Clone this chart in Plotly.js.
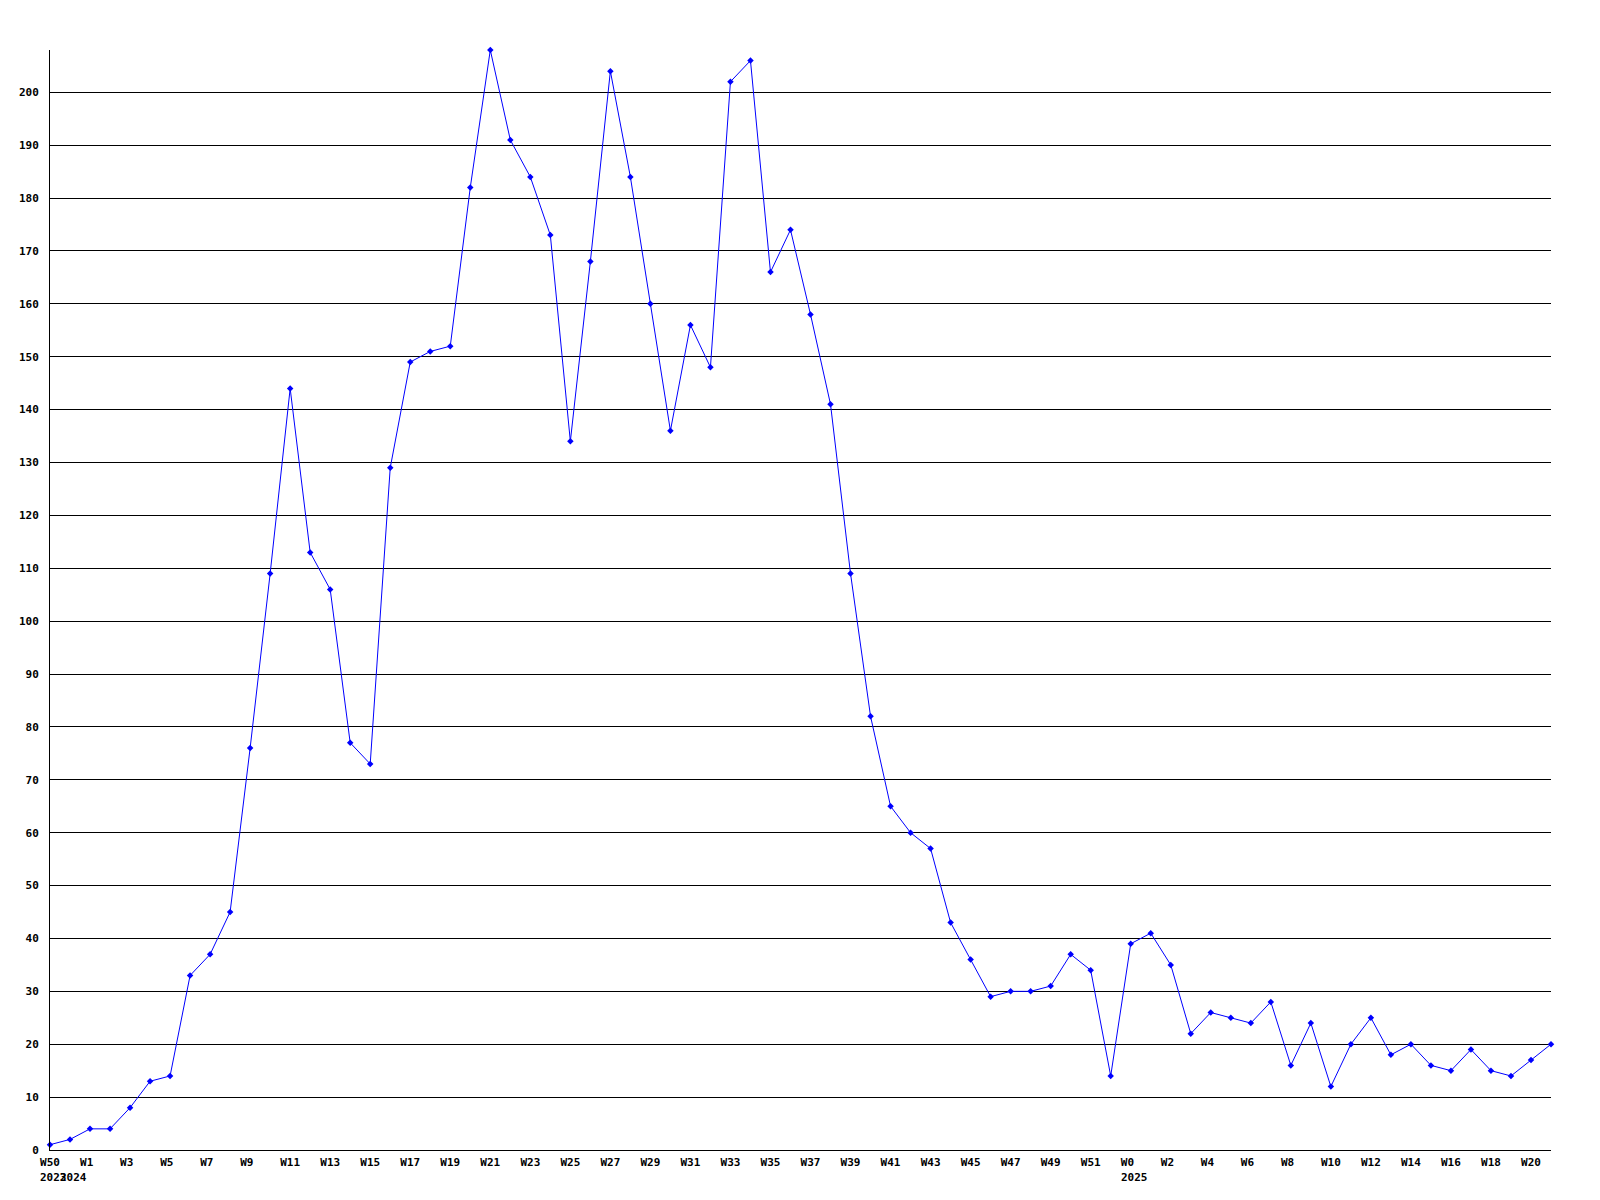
<!DOCTYPE html>
<html>
<head>
<meta charset="utf-8">
<script src="https://cdn.plot.ly/plotly-3.0.1.min.js"></script>
<style>html,body{margin:0;padding:0;background:#fff;}#chart{width:1600px;height:1200px;}</style>
</head>
<body>
<div id="chart"></div>
<script>
// Week labels, in order (index 0 = 2023 W50, index 1 starts 2024, index 54 starts 2025)
var weekLabels = ["W50","W0",
  "W1","W2","W3","W4","W5","W6","W7","W8","W9","W10","W11","W12","W13","W14","W15","W16","W17","W18","W19","W20",
  "W21","W22","W23","W24","W25","W26","W27","W28","W29","W30","W31","W32","W33","W34","W35","W36","W37","W38","W39","W40",
  "W41","W42","W43","W44","W45","W46","W47","W48","W49","W50","W51","W52",
  "W0","W1","W2","W3","W4","W5","W6","W7","W8","W9","W10","W11","W12","W13","W14","W15","W16","W17","W18","W19","W20","W21"];
var values = [1,2,
  4,4,8,13,14,33,37,45,76,109,144,113,106,77,73,129,149,151,152,182,
  208,191,184,173,134,168,204,184,160,136,156,148,202,206,166,174,158,141,109,82,
  65,60,57,43,36,29,30,30,31,37,34,14,
  39,41,35,22,26,25,24,28,16,24,12,20,25,18,20,16,15,19,15,14,17,20];
var yearLabels = ["2023","2024","2025"];
var yearStartIndex = [0,1,54];

var xs = values.map(function(v,i){return i;});
var tickvals = [], ticktext = [];
for (var i = 0; i < weekLabels.length; i += 2) {
  tickvals.push(i);
  var t = weekLabels[i];
  while (t.length < 3) t += "\u00A0";
  ticktext.push(t);
}

var font = {family: "DejaVu Sans Mono, Liberation Mono, monospace", size: 11, color: "#000"};

var annotations = yearLabels.map(function(y, k){
  return {x: yearStartIndex[k], xref: "x", y: 0, yref: "paper", text: "<b>"+y+"</b>",
    showarrow: false, xanchor: "left", yanchor: "top", xshift: -12, yshift: -19,
    font: font};
});

var trace = {
  x: xs, y: values, type: "scatter", mode: "lines+markers",
  line: {color: "#0000ff", width: 1},
  marker: {color: "#0000ff", symbol: "diamond", size: 5},
  cliponaxis: false,
  hoverinfo: "x+y"
};

var layout = {
  width: 1600, height: 1200,
  margin: {l: 50, r: 49, t: 50, b: 50, pad: 0},
  paper_bgcolor: "#fff", plot_bgcolor: "#fff",
  showlegend: false,
  font: font,
  xaxis: {
    range: [0, 75], tickmode: "array", tickvals: tickvals,
    ticktext: ticktext.map(function(t){return "<b>"+t+"</b>";}),
    showgrid: false, zeroline: false, showline: true, linecolor: "#000", linewidth: 1,
    ticks: "", tickangle: 0, tickfont: font, ticklabelstandoff: 2
  },
  yaxis: {
    range: [0, 208], dtick: 10, tick0: 0, showgrid: true, gridcolor: "#000", gridwidth: 1,
    zeroline: false, showline: true, linecolor: "#000", linewidth: 1,
    ticks: "", tickfont: font, ticklabelstandoff: 8,
    tickformat: "d", tickprefix: "<b>", ticksuffix: "</b>"
  },
  annotations: annotations
};

Plotly.newPlot("chart", [trace], layout, {staticPlot: true, displayModeBar: false});
</script>
</body>
</html>
